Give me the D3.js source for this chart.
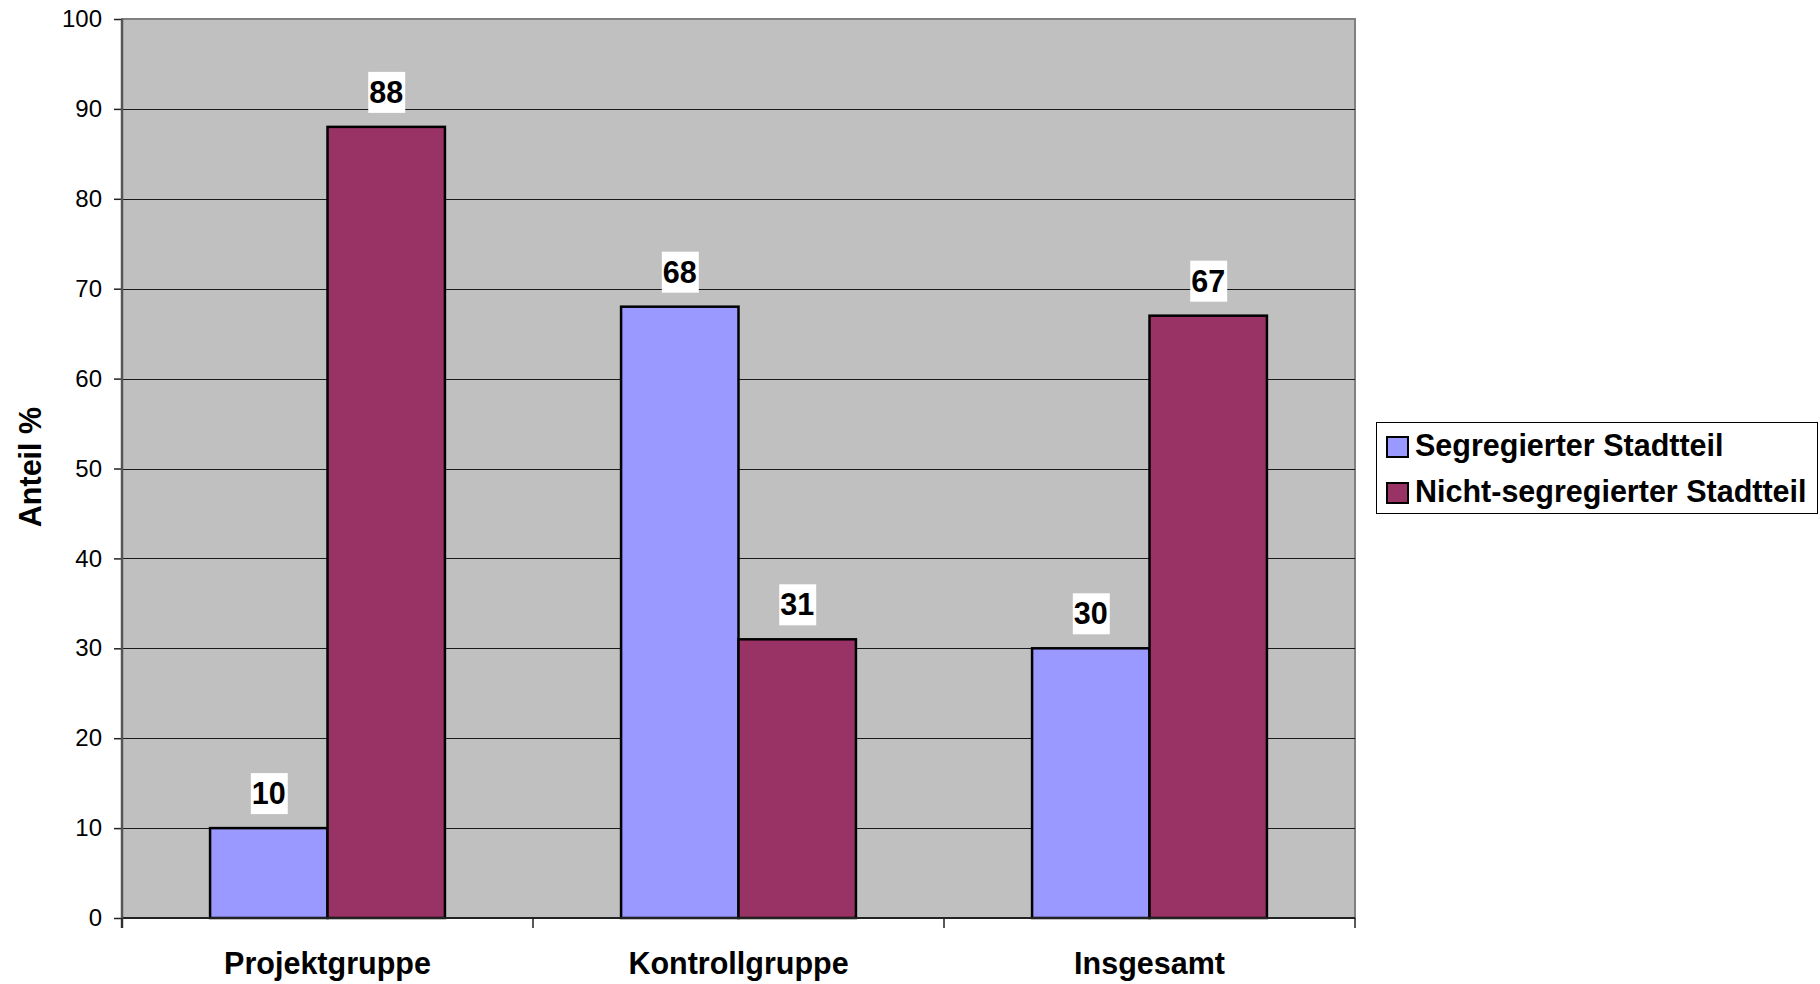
<!DOCTYPE html>
<html>
<head>
<meta charset="utf-8">
<script src="https://cdn.jsdelivr.net/npm/d3@7"></script>
<style>
  body { margin: 0; background: #fff; }
  svg { display: block; font-family: "Liberation Sans", Arial, sans-serif; }
</style>
</head>
<body>
<svg id="chart" width="1820" height="984"></svg>
<script>
// ----- data
const categories = ["Projektgruppe", "Kontrollgruppe", "Insgesamt"];
const seriesNames = ["Segregierter Stadtteil", "Nicht-segregierter Stadtteil"];
const segregiert = [10, 68, 30];
const nichtSegregiert = [88, 31, 67];
const yTicks = [0, 10, 20, 30, 40, 50, 60, 70, 80, 90, 100];

const colors = ["#9999ff", "#993366"];

// plot box
const plot = { left: 122, right: 1355, top: 19, bottom: 918 };

const svg = d3.select("#chart");

const x = d3.scaleBand()
  .domain(categories)
  .range([plot.left, plot.right]);

// Excel style gap width 150%
const x1 = d3.scaleBand()
  .domain(seriesNames)
  .range([0, x.bandwidth()])
  .paddingInner(0)
  .paddingOuter(0.75);

const y = d3.scaleLinear()
  .domain([0, 100])
  .range([plot.bottom, plot.top]);

// plot background
svg.append("rect")
  .attr("x", plot.left)
  .attr("y", plot.top)
  .attr("width", plot.right - plot.left)
  .attr("height", plot.bottom - plot.top)
  .attr("fill", "#c0c0c0")
  .attr("stroke", "#808080")
  .attr("stroke-width", 2);

// gridlines
svg.append("g")
  .selectAll("line")
  .data(yTicks.filter(t => t > 0 && t < 100))
  .join("line")
    .attr("x1", plot.left)
    .attr("x2", plot.right)
    .attr("y1", d => Math.round(y(d)) + 0.5)
    .attr("y2", d => Math.round(y(d)) + 0.5)
    .attr("stroke", "#1a1a1a")
    .attr("stroke-width", 1);

// y axis
const yAxis = d3.axisLeft(y)
  .tickValues(yTicks)
  .tickSize(8)
  .tickPadding(12);
svg.append("g")
  .attr("transform", `translate(${plot.left},0)`)
  .call(yAxis)
  .call(g => g.select(".domain").remove())
  .call(g => g.selectAll(".tick line").attr("stroke", "#222").attr("stroke-width", 1.5))
  .call(g => g.selectAll(".tick text")
    .attr("font-size", 24)
    .attr("font-family", "Liberation Sans, Arial, sans-serif")
    .attr("fill", "#000"));

// bars
const groups = svg.append("g")
  .selectAll("g")
  .data(categories)
  .join("g")
    .attr("transform", d => `translate(${x(d)},0)`);

const barData = (c, i) => [
  { series: seriesNames[0], value: segregiert[i], color: colors[0] },
  { series: seriesNames[1], value: nichtSegregiert[i], color: colors[1] }
];

groups.selectAll("rect")
  .data(barData)
  .join("rect")
    .attr("x", d => x1(d.series))
    .attr("y", d => y(d.value))
    .attr("width", x1.bandwidth())
    .attr("height", d => y(0) - y(d.value))
    .attr("fill", d => d.color)
    .attr("stroke", "#000")
    .attr("stroke-width", 2.5);

// data labels with white box
groups.selectAll("g.lbl")
  .data(barData)
  .join("g")
    .attr("class", "lbl")
    .each(function(d) {
      const g = d3.select(this);
      const cx = x1(d.series) + x1.bandwidth() / 2;
      const baseline = y(d.value) - 24;
      const bg = g.append("rect").attr("fill", "#fff");
      const t = g.append("text")
        .attr("x", cx)
        .attr("y", baseline)
        .attr("text-anchor", "middle")
        .attr("font-size", 30.5)
        .attr("font-weight", "bold")
        .attr("fill", "#000")
        .text(d.value);
      const bb = t.node().getBBox();
      bg.attr("x", bb.x - 1)
        .attr("y", baseline - 31)
        .attr("width", bb.width + 3)
        .attr("height", 41);
    });

// x axis line + ticks
svg.append("line")
  .attr("x1", plot.left).attr("x2", plot.right)
  .attr("y1", plot.bottom).attr("y2", plot.bottom)
  .attr("stroke", "#222").attr("stroke-width", 2);
svg.append("line")
  .attr("x1", plot.left).attr("x2", plot.left)
  .attr("y1", plot.top).attr("y2", plot.bottom + 10)
  .attr("stroke", "#555").attr("stroke-width", 2.5);

const boundaries = categories.map(c => x(c)).concat([x(categories[categories.length - 1]) + x.bandwidth()]);
svg.append("g")
  .selectAll("line")
  .data(boundaries)
  .join("line")
    .attr("x1", d => d).attr("x2", d => d)
    .attr("y1", plot.bottom).attr("y2", plot.bottom + 10)
    .attr("stroke", "#222").attr("stroke-width", 1.5);

// category labels
svg.append("g")
  .selectAll("text")
  .data(categories)
  .join("text")
    .attr("x", d => x(d) + x.bandwidth() / 2)
    .attr("y", 974)
    .attr("text-anchor", "middle")
    .attr("font-size", 30.5)
    .attr("font-weight", "bold")
    .text(d => d);

// y axis title
svg.append("text")
  .attr("transform", `translate(41,467) rotate(-90)`)
  .attr("text-anchor", "middle")
  .attr("font-size", 30.5)
  .attr("font-weight", "bold")
  .text("Anteil %");

// legend
const legend = svg.append("g");
legend.append("rect")
  .attr("x", 1376.5).attr("y", 422.5)
  .attr("width", 441).attr("height", 91)
  .attr("fill", "#fff")
  .attr("stroke", "#000").attr("stroke-width", 1);

const items = legend.selectAll("g.item")
  .data(seriesNames)
  .join("g")
    .attr("class", "item")
    .attr("transform", (d, i) => `translate(1387,${434 + i * 46})`);
items.append("rect")
  .attr("x", 0).attr("y", 3)
  .attr("width", 21).attr("height", 20)
  .attr("fill", (d, i) => colors[i])
  .attr("stroke", "#000").attr("stroke-width", 2);
items.append("text")
  .attr("x", 28)
  .attr("y", 22)
  .attr("font-size", 30.5)
  .attr("font-weight", "bold")
  .text(d => d);
</script>
</body>
</html>
